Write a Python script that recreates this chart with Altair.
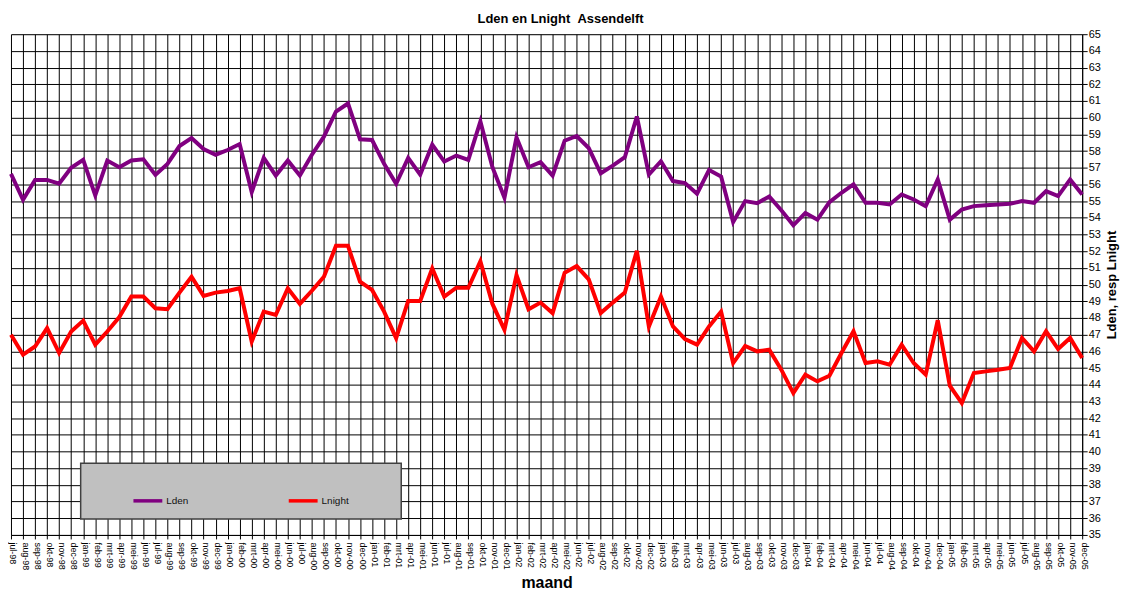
import altair as alt
import pandas as pd

month_names = ["jan", "feb", "mrt", "apr", "mei", "jun", "jul", "aug", "sep", "okt", "nov", "dec"]
months = []
for k in range(90):
    m = (6 + k) % 12
    y = (98 + (6 + k) // 12) % 100
    months.append(f"{month_names[m]}-{y:02d}")

lden = [56.63, 55.08, 56.27, 56.27, 56.04, 57.0, 57.47, 55.34, 57.43, 57.03,
        57.43, 57.5, 56.57, 57.23, 58.30, 58.78, 58.12, 57.78, 58.06, 58.42,
        55.54, 57.59, 56.53, 57.43, 56.53, 57.78, 58.86, 60.37, 60.85, 58.70,
        58.66, 57.23, 56.04, 57.59, 56.59, 58.38, 57.37, 57.73, 57.47, 59.77,
        57.03, 55.2, 58.82, 57.03, 57.33, 56.53, 58.62, 58.90, 58.18, 56.67,
        57.13, 57.63, 60.07, 56.59, 57.39, 56.20, 56.08, 55.44, 56.87, 56.47,
        53.75, 55.0, 54.88, 55.28, 54.45, 53.55, 54.29, 53.89, 54.94, 55.5,
        56.0, 54.9, 54.9, 54.8, 55.4, 55.1, 54.7, 56.3, 53.89, 54.5,
        54.7, 54.75, 54.8, 54.84, 55.0, 54.9, 55.6, 55.3, 56.3, 55.4]

lnight = [46.99, 45.8, 46.29, 47.39, 45.9, 47.19, 47.84, 46.4, 47.19, 48.05,
          49.28, 49.28, 48.58, 48.52, 49.52, 50.47, 49.32, 49.52, 49.62, 49.78,
          46.59, 48.38, 48.18, 49.78, 48.84, 49.63, 50.47, 52.32, 52.32, 50.17,
          49.68, 48.38, 46.79, 49.02, 49.02, 50.97, 49.28, 49.81, 49.81, 51.4,
          48.84, 47.29, 50.57, 48.52, 48.92, 48.29, 50.71, 51.11, 50.31, 48.29,
          48.92, 49.52, 52.02, 47.49, 49.28, 47.49, 46.73, 46.4, 47.49, 48.38,
          45.3, 46.32, 46.0, 46.1, 44.9, 43.5, 44.6, 44.2, 44.54, 45.9,
          47.2, 45.3, 45.4, 45.2, 46.4, 45.3, 44.6, 47.86, 43.94, 42.9,
          44.7, 44.8, 44.9, 45.0, 46.8, 46.0, 47.2, 46.14, 46.8, 45.6]

series_names = ["Lden", "Lnight"]
series_colors = ["#800080", "#FF0000"]

df = pd.DataFrame({
    "maand": months * 2,
    "reeks": ["Lden"] * len(lden) + ["Lnight"] * len(lnight),
    "waarde": lden + lnight,
})

FONT = "Liberation Sans"

lines = alt.Chart(df).mark_line(strokeWidth=4).encode(
    x=alt.X("maand:N", sort=months,
            scale=alt.Scale(type="point", padding=0),
            axis=alt.Axis(title="maand", labelAngle=90, labelFontSize=9, labelFont=FONT,
                          labelColor="black", labelOverlap=False, labelPadding=3,
                          labelOffset=2,
                          grid=True, gridColor="black", gridWidth=1,
                          tickSize=4, tickColor="black", domainColor="black",
                          titleFont=FONT, titleFontSize=16, titleFontWeight="bold",
                          titleColor="black", titlePadding=5)),
    y=alt.Y("waarde:Q", scale=alt.Scale(domain=[35, 65], nice=False, zero=False),
            axis=alt.Axis(orient="right", values=list(range(35, 66)),
                          title="Lden, resp Lnight", titleAngle=270, titleBaseline="top",
                          titleFont=FONT, titleFontSize=13, titleFontWeight="bold",
                          titleColor="black", titlePadding=5,
                          labelFont=FONT, labelFontSize=11, labelColor="black",
                          labelOverlap=False, labelPadding=1,
                          grid=True, gridColor="black", gridWidth=1,
                          tickSize=5, tickColor="black", domainColor="black")),
    color=alt.Color("reeks:N",
                    scale=alt.Scale(domain=series_names, range=series_colors),
                    legend=alt.Legend(title=None, orient="none", legendX=121, legendY=452,
                                      direction="horizontal", symbolType="stroke",
                                      symbolSize=841, symbolStrokeWidth=3.5,
                                      labelFont=FONT, labelFontSize=10, labelColor="#111",
                                      labelOffset=2, columnPadding=93, padding=0)),
)

box = alt.Chart(pd.DataFrame({"a": [0]})).mark_rect(
    fill="#C0C0C0", stroke="#404040", strokeWidth=1.5
).encode(
    x=alt.value(70), x2=alt.value(392), y=alt.value(431), y2=alt.value(487)
)

chart = alt.layer(box, lines).properties(
    width=1076, height=503,
    title=alt.TitleParams("Lden en Lnight \u00a0Assendelft", font=FONT, fontSize=13,
                          fontWeight="bold", color="black", anchor="middle",
                          dx=14, offset=2),
    autosize=alt.AutoSizeParams(type="none"),
    padding={"left": 3, "top": 25, "right": 40, "bottom": 58},
).configure_view(
    fill="#C0C0C0", stroke="#808080", strokeWidth=1
).configure(background="white")

chart.save("out.html", embed_options={"renderer": "svg", "actions": False})
